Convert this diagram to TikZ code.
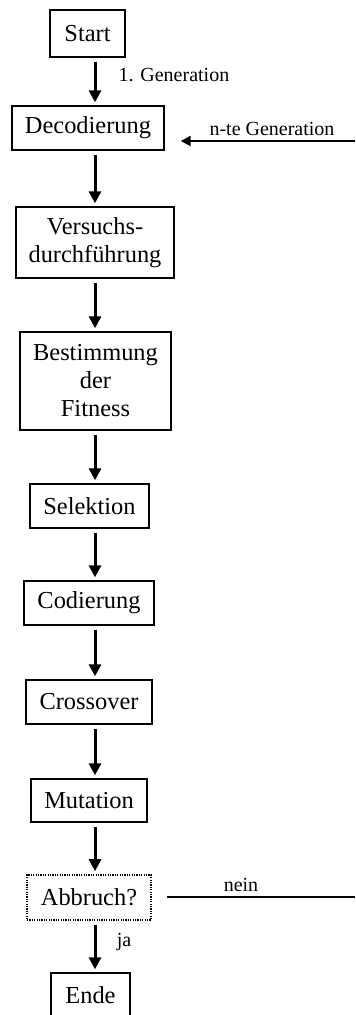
\documentclass[tikz,border=0pt]{standalone}
\usepackage{fontspec}
\setmainfont{Liberation Serif}
\usetikzlibrary{arrows.meta}

\begin{document}
\begin{tikzpicture}[x=0.5pt,y=-0.5pt,line join=miter,
	box/.style={draw,line width=0.7pt,inner sep=0pt,align=center,minimum height=22pt,font=\fontsize{12.2}{14}\selectfont},
	flow/.style={-{Triangle[width=6pt,length=6pt]},line width=1.5pt,shorten <=2pt,shorten >=1.5pt},
	lab/.style={font=\fontsize{10}{12}\selectfont,inner sep=1pt}]
	\useasboundingbox (0,0) rectangle (355,1015);
	\node[box,minimum width=37.5pt,minimum height=23.5pt] (start) at (87.5,33.5) {Start};
	\node[box,minimum width=76pt] (dec) at (88,128) {Decodierung};
	\node[box,minimum width=79pt,minimum height=35.5pt] (vers) at (95,242.5) {Versuchs-\\durchführung};
	\node[box,minimum width=75.5pt,minimum height=49pt] (best) at (95.5,381) {Bestimmung\\der\\Fitness};
	\node[box,minimum width=59.5pt] (sel) at (89.5,506) {Selektion};
	\node[box,minimum width=65pt] (cod) at (89,603) {Codierung};
	\node[box,minimum width=63pt] (cross) at (89,702) {Crossover};
	\node[box,minimum width=58pt,minimum height=21.5pt] (mut) at (89,800.5) {Mutation};
	\node[box,minimum width=62pt,minimum height=22.5pt,line width=0.8pt,dash pattern=on 0.6pt off 0.6pt] (abb) at (89,897.5) {Abbruch?};
	\node[box,minimum width=39.5pt,minimum height=26pt] (ende) at (90.5,999) {};
	\node[font=\fontsize{12.2}{14}\selectfont] (endetext) at (90.5,995) {Ende};
	% Pfeile in einer Spalte
	\coordinate (col) at (95,0);
	\foreach \a/\b in {start/dec,dec/vers,vers/best,best/sel,sel/cod,cod/cross,cross/mut,mut/abb,abb/ende}
		\draw[flow] (\a.south -| col) -- (\b.north -| col);
	% Beschriftungen
	\node[lab] (gen1) at (174,75) {1. Generation};
	\node[lab] (ja) at (124,942) {ja};
	% Rueckfuehrung
	\coordinate (ngen) at (355,141);
	\draw[-{Triangle[width=5pt,length=5pt]},line width=1pt,shorten >=8pt] (ngen) -- (dec.east |- ngen);
	\node[lab] (ngenlab) at (272,129) {n-te Generation};
	\coordinate (nend) at (355,897);
	\draw[line width=0.6pt,shorten <=7.5pt] (abb.east |- nend) -- (nend);
	\node[lab] (nein) at (241,885) {nein};
\end{tikzpicture}
\end{document}
